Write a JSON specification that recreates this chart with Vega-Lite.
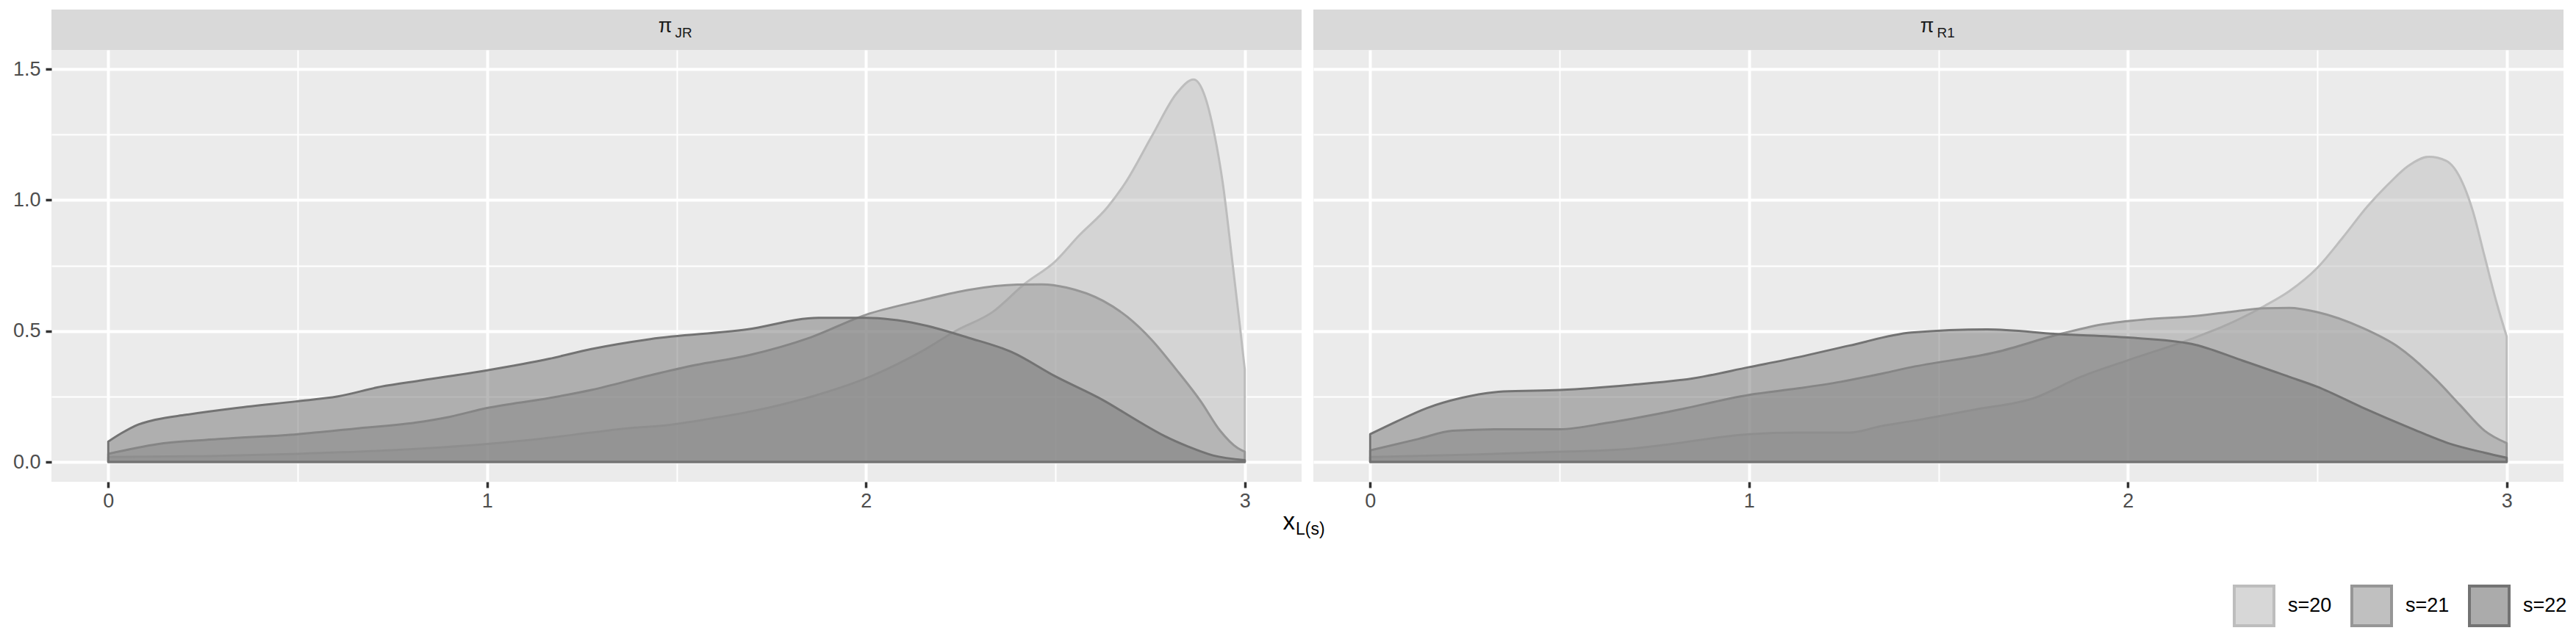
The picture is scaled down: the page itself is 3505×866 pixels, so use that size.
{
"$schema": "https://vega.github.io/schema/vega-lite/v6.json",
"background": "white",
"padding": {"left": 17, "top": 13, "right": 18, "bottom": 10},
"config": {"font": "Liberation Sans", "view": {"stroke": null}},
"datasets": {
"dens": [
{"p":"JR","s":"s=20","x":0,"y":0.019},{"p":"JR","s":"s=20","x":0.25,"y":0.022},{"p":"JR","s":"s=20","x":0.5,"y":0.031},{"p":"JR","s":"s=20","x":0.75,"y":0.045},{"p":"JR","s":"s=20","x":1.0,"y":0.069},{"p":"JR","s":"s=20","x":1.15,"y":0.09},{"p":"JR","s":"s=20","x":1.275,"y":0.112},{"p":"JR","s":"s=20","x":1.39,"y":0.131},{"p":"JR","s":"s=20","x":1.46,"y":0.138},{"p":"JR","s":"s=20","x":1.6,"y":0.168},{"p":"JR","s":"s=20","x":1.74,"y":0.206},{"p":"JR","s":"s=20","x":1.87,"y":0.255},{"p":"JR","s":"s=20","x":2.0,"y":0.319},{"p":"JR","s":"s=20","x":2.142,"y":0.418},{"p":"JR","s":"s=20","x":2.239,"y":0.502},{"p":"JR","s":"s=20","x":2.335,"y":0.573},{"p":"JR","s":"s=20","x":2.419,"y":0.68},{"p":"JR","s":"s=20","x":2.5,"y":0.766},{"p":"JR","s":"s=20","x":2.561,"y":0.862},{"p":"JR","s":"s=20","x":2.639,"y":0.975},{"p":"JR","s":"s=20","x":2.684,"y":1.064},{"p":"JR","s":"s=20","x":2.757,"y":1.25},{"p":"JR","s":"s=20","x":2.82,"y":1.407},{"p":"JR","s":"s=20","x":2.865,"y":1.46},{"p":"JR","s":"s=20","x":2.892,"y":1.407},{"p":"JR","s":"s=20","x":2.92,"y":1.25},{"p":"JR","s":"s=20","x":2.942,"y":1.064},{"p":"JR","s":"s=20","x":2.968,"y":0.755},{"p":"JR","s":"s=20","x":2.987,"y":0.521},{"p":"JR","s":"s=20","x":3.0,"y":0.353},
{"p":"JR","s":"s=21","x":0,"y":0.031},{"p":"JR","s":"s=21","x":0.13,"y":0.068},{"p":"JR","s":"s=21","x":0.3,"y":0.088},{"p":"JR","s":"s=21","x":0.5,"y":0.106},{"p":"JR","s":"s=21","x":0.65,"y":0.127},{"p":"JR","s":"s=21","x":0.81,"y":0.15},{"p":"JR","s":"s=21","x":0.9,"y":0.172},{"p":"JR","s":"s=21","x":1.0,"y":0.206},{"p":"JR","s":"s=21","x":1.164,"y":0.244},{"p":"JR","s":"s=21","x":1.275,"y":0.275},{"p":"JR","s":"s=21","x":1.431,"y":0.331},{"p":"JR","s":"s=21","x":1.55,"y":0.37},{"p":"JR","s":"s=21","x":1.686,"y":0.406},{"p":"JR","s":"s=21","x":1.853,"y":0.475},{"p":"JR","s":"s=21","x":2.0,"y":0.562},{"p":"JR","s":"s=21","x":2.142,"y":0.615},{"p":"JR","s":"s=21","x":2.271,"y":0.657},{"p":"JR","s":"s=21","x":2.4,"y":0.677},{"p":"JR","s":"s=21","x":2.465,"y":0.678},{"p":"JR","s":"s=21","x":2.529,"y":0.666},{"p":"JR","s":"s=21","x":2.626,"y":0.615},{"p":"JR","s":"s=21","x":2.69,"y":0.554},{"p":"JR","s":"s=21","x":2.755,"y":0.465},{"p":"JR","s":"s=21","x":2.819,"y":0.353},{"p":"JR","s":"s=21","x":2.884,"y":0.231},{"p":"JR","s":"s=21","x":2.935,"y":0.119},{"p":"JR","s":"s=21","x":2.981,"y":0.053},{"p":"JR","s":"s=21","x":3.0,"y":0.039},
{"p":"JR","s":"s=22","x":0,"y":0.078},{"p":"JR","s":"s=22","x":0.035,"y":0.11},{"p":"JR","s":"s=22","x":0.071,"y":0.138},{"p":"JR","s":"s=22","x":0.127,"y":0.162},{"p":"JR","s":"s=22","x":0.205,"y":0.18},{"p":"JR","s":"s=22","x":0.339,"y":0.206},{"p":"JR","s":"s=22","x":0.495,"y":0.231},{"p":"JR","s":"s=22","x":0.606,"y":0.25},{"p":"JR","s":"s=22","x":0.718,"y":0.287},{"p":"JR","s":"s=22","x":0.829,"y":0.312},{"p":"JR","s":"s=22","x":1.0,"y":0.35},{"p":"JR","s":"s=22","x":1.164,"y":0.394},{"p":"JR","s":"s=22","x":1.275,"y":0.431},{"p":"JR","s":"s=22","x":1.431,"y":0.469},{"p":"JR","s":"s=22","x":1.686,"y":0.506},{"p":"JR","s":"s=22","x":1.875,"y":0.55},{"p":"JR","s":"s=22","x":2.0,"y":0.55},{"p":"JR","s":"s=22","x":2.142,"y":0.526},{"p":"JR","s":"s=22","x":2.271,"y":0.474},{"p":"JR","s":"s=22","x":2.387,"y":0.418},{"p":"JR","s":"s=22","x":2.497,"y":0.329},{"p":"JR","s":"s=22","x":2.626,"y":0.236},{"p":"JR","s":"s=22","x":2.723,"y":0.152},{"p":"JR","s":"s=22","x":2.787,"y":0.1},{"p":"JR","s":"s=22","x":2.852,"y":0.058},{"p":"JR","s":"s=22","x":2.916,"y":0.025},{"p":"JR","s":"s=22","x":3.0,"y":0.007},
{"p":"R1","s":"s=20","x":0,"y":0.019},{"p":"R1","s":"s=20","x":0.25,"y":0.027},{"p":"R1","s":"s=20","x":0.462,"y":0.037},{"p":"R1","s":"s=20","x":0.685,"y":0.05},{"p":"R1","s":"s=20","x":0.796,"y":0.069},{"p":"R1","s":"s=20","x":1.0,"y":0.106},{"p":"R1","s":"s=20","x":1.13,"y":0.112},{"p":"R1","s":"s=20","x":1.264,"y":0.112},{"p":"R1","s":"s=20","x":1.353,"y":0.138},{"p":"R1","s":"s=20","x":1.429,"y":0.156},{"p":"R1","s":"s=20","x":1.596,"y":0.2},{"p":"R1","s":"s=20","x":1.753,"y":0.244},{"p":"R1","s":"s=20","x":1.876,"y":0.325},{"p":"R1","s":"s=20","x":2.0,"y":0.388},{"p":"R1","s":"s=20","x":2.168,"y":0.47},{"p":"R1","s":"s=20","x":2.265,"y":0.526},{"p":"R1","s":"s=20","x":2.361,"y":0.596},{"p":"R1","s":"s=20","x":2.426,"y":0.652},{"p":"R1","s":"s=20","x":2.5,"y":0.741},{"p":"R1","s":"s=20","x":2.568,"y":0.858},{"p":"R1","s":"s=20","x":2.632,"y":0.975},{"p":"R1","s":"s=20","x":2.69,"y":1.064},{"p":"R1","s":"s=20","x":2.74,"y":1.13},{"p":"R1","s":"s=20","x":2.795,"y":1.165},{"p":"R1","s":"s=20","x":2.84,"y":1.15},{"p":"R1","s":"s=20","x":2.884,"y":1.064},{"p":"R1","s":"s=20","x":2.91,"y":0.961},{"p":"R1","s":"s=20","x":2.942,"y":0.783},{"p":"R1","s":"s=20","x":2.974,"y":0.605},{"p":"R1","s":"s=20","x":3.0,"y":0.479},
{"p":"R1","s":"s=21","x":0,"y":0.044},{"p":"R1","s":"s=21","x":0.128,"y":0.088},{"p":"R1","s":"s=21","x":0.217,"y":0.119},{"p":"R1","s":"s=21","x":0.351,"y":0.125},{"p":"R1","s":"s=21","x":0.501,"y":0.125},{"p":"R1","s":"s=21","x":0.629,"y":0.15},{"p":"R1","s":"s=21","x":0.796,"y":0.194},{"p":"R1","s":"s=21","x":1.0,"y":0.256},{"p":"R1","s":"s=21","x":1.13,"y":0.281},{"p":"R1","s":"s=21","x":1.242,"y":0.306},{"p":"R1","s":"s=21","x":1.353,"y":0.338},{"p":"R1","s":"s=21","x":1.429,"y":0.362},{"p":"R1","s":"s=21","x":1.652,"y":0.419},{"p":"R1","s":"s=21","x":1.82,"y":0.488},{"p":"R1","s":"s=21","x":1.932,"y":0.525},{"p":"R1","s":"s=21","x":2.05,"y":0.545},{"p":"R1","s":"s=21","x":2.168,"y":0.556},{"p":"R1","s":"s=21","x":2.265,"y":0.572},{"p":"R1","s":"s=21","x":2.361,"y":0.587},{"p":"R1","s":"s=21","x":2.426,"y":0.588},{"p":"R1","s":"s=21","x":2.5,"y":0.572},{"p":"R1","s":"s=21","x":2.619,"y":0.512},{"p":"R1","s":"s=21","x":2.716,"y":0.437},{"p":"R1","s":"s=21","x":2.813,"y":0.315},{"p":"R1","s":"s=21","x":2.877,"y":0.217},{"p":"R1","s":"s=21","x":2.942,"y":0.119},{"p":"R1","s":"s=21","x":3.0,"y":0.072},
{"p":"R1","s":"s=22","x":0,"y":0.106},{"p":"R1","s":"s=22","x":0.072,"y":0.156},{"p":"R1","s":"s=22","x":0.15,"y":0.206},{"p":"R1","s":"s=22","x":0.239,"y":0.244},{"p":"R1","s":"s=22","x":0.351,"y":0.269},{"p":"R1","s":"s=22","x":0.501,"y":0.275},{"p":"R1","s":"s=22","x":0.685,"y":0.294},{"p":"R1","s":"s=22","x":0.852,"y":0.319},{"p":"R1","s":"s=22","x":1.0,"y":0.362},{"p":"R1","s":"s=22","x":1.13,"y":0.4},{"p":"R1","s":"s=22","x":1.264,"y":0.444},{"p":"R1","s":"s=22","x":1.429,"y":0.494},{"p":"R1","s":"s=22","x":1.629,"y":0.506},{"p":"R1","s":"s=22","x":1.82,"y":0.488},{"p":"R1","s":"s=22","x":2.0,"y":0.475},{"p":"R1","s":"s=22","x":2.168,"y":0.451},{"p":"R1","s":"s=22","x":2.297,"y":0.39},{"p":"R1","s":"s=22","x":2.426,"y":0.325},{"p":"R1","s":"s=22","x":2.5,"y":0.287},{"p":"R1","s":"s=22","x":2.619,"y":0.208},{"p":"R1","s":"s=22","x":2.748,"y":0.128},{"p":"R1","s":"s=22","x":2.845,"y":0.072},{"p":"R1","s":"s=22","x":2.942,"y":0.035},{"p":"R1","s":"s=22","x":3.0,"y":0.016}
]
},
"spacing": 0,
"vconcat": [
{
"spacing": 16,
"hconcat": [
{
"bounds": "flush",
"spacing": 0,
"vconcat": [
{
"width": 1701, "height": 55,
"view": {"fill": "#D9D9D9", "stroke": null},
"data": {"values": [{"sym": "π", "sub": "JR"}]},
"layer": [
{"mark": {"type": "text", "align": "right", "baseline": "alphabetic", "fontSize": 27, "dx": -6, "dy": 3, "color": "#1A1A1A"}, "encoding": {"text": {"field": "sym"}}},
{"mark": {"type": "text", "align": "left", "baseline": "alphabetic", "fontSize": 19, "dx": -2, "dy": 10, "color": "#1A1A1A"}, "encoding": {"text": {"field": "sub"}}}
]
},
{
"width": 1701, "height": 588,
"view": {"fill": "#EBEBEB", "stroke": null},
"data": {"name": "dens"},
"transform": [{"filter": "datum.p === 'JR'"}],
"mark": {"type": "area", "interpolate": "monotone", "fillOpacity": 0.5, "strokeWidth": 3, "strokeJoin": "round"},
"encoding": {
"x": {"field": "x", "type": "quantitative", "scale": {"domain": [-0.15, 3.15], "nice": false},
 "axis": {"values": [0,0.5,1,1.5,2,2.5,3], "labelExpr": "datum.value % 1 === 0 ? format(datum.value, 'd') : ''", "title": null, "domain": false, "tickColor": "#333333", "tickSize": 8, "tickWidth": 3.5, "tickOpacity": {"condition": {"test": "datum.value % 1 !== 0", "value": 0}, "value": 1}, "gridColor": "#FFFFFF", "gridOpacity": 1, "gridWidth": {"condition": {"test": "datum.value % 1 !== 0", "value": 2}, "value": 4}, "labelFontSize": 27, "labelColor": "#4D4D4D", "labelPadding": 5, "labelOverlap": false, "labelFlush": false}},
"y": {"field": "y", "type": "quantitative", "stack": null, "scale": {"domain": [-0.0757, 1.573], "nice": false},
 "axis": {"values": [0,0.25,0.5,0.75,1,1.25,1.5], "labelExpr": "datum.value % 0.5 === 0 ? format(datum.value, '.1f') : ''", "title": null, "domain": false, "tickColor": "#333333", "tickSize": 8, "tickWidth": 3.5, "tickOpacity": {"condition": {"test": "datum.value % 0.5 !== 0", "value": 0}, "value": 1}, "gridColor": "#FFFFFF", "gridOpacity": 1, "gridWidth": {"condition": {"test": "datum.value % 0.5 !== 0", "value": 2}, "value": 4}, "labelFontSize": 27, "labelColor": "#4D4D4D", "labelPadding": 7, "labelOverlap": false}},
"fill": {"field": "s", "type": "nominal", "scale": {"domain": ["s=20","s=21","s=22"], "range": ["#BDBDBD","#969696","#737373"]},
 "legend": {"title": null, "orient": "none", "legendX": 2968, "legendY": 783, "direction": "horizontal", "symbolType": "square", "symbolSize": 2916, "symbolStrokeWidth": 4, "labelFontSize": 27, "labelColor": "#000000", "labelOffset": 17, "columnPadding": 19, "encode": {"symbols": {"update": {"fillOpacity": {"value": 0.6}, "strokeOpacity": {"value": 1}}}}}},
"stroke": {"field": "s", "type": "nominal", "scale": {"domain": ["s=20","s=21","s=22"], "range": ["#BDBDBD","#969696","#737373"]},
 "legend": {"title": null, "orient": "none", "legendX": 2968, "legendY": 783, "direction": "horizontal", "symbolType": "square", "symbolSize": 2916, "symbolStrokeWidth": 4, "labelFontSize": 27, "labelColor": "#000000", "labelOffset": 17, "columnPadding": 19, "encode": {"symbols": {"update": {"fillOpacity": {"value": 0.6}, "strokeOpacity": {"value": 1}}}}}}
}
}
]
},
{
"bounds": "flush",
"spacing": 0,
"vconcat": [
{
"width": 1701, "height": 55,
"view": {"fill": "#D9D9D9", "stroke": null},
"data": {"values": [{"sym": "π", "sub": "R1"}]},
"layer": [
{"mark": {"type": "text", "align": "right", "baseline": "alphabetic", "fontSize": 27, "dx": -6, "dy": 3, "color": "#1A1A1A"}, "encoding": {"text": {"field": "sym"}}},
{"mark": {"type": "text", "align": "left", "baseline": "alphabetic", "fontSize": 19, "dx": -2, "dy": 10, "color": "#1A1A1A"}, "encoding": {"text": {"field": "sub"}}}
]
},
{
"width": 1701, "height": 588,
"view": {"fill": "#EBEBEB", "stroke": null},
"data": {"name": "dens"},
"transform": [{"filter": "datum.p === 'R1'"}],
"mark": {"type": "area", "interpolate": "monotone", "fillOpacity": 0.5, "strokeWidth": 3, "strokeJoin": "round"},
"encoding": {
"x": {"field": "x", "type": "quantitative", "scale": {"domain": [-0.15, 3.15], "nice": false},
 "axis": {"values": [0,0.5,1,1.5,2,2.5,3], "labelExpr": "datum.value % 1 === 0 ? format(datum.value, 'd') : ''", "title": null, "domain": false, "tickColor": "#333333", "tickSize": 8, "tickWidth": 3.5, "tickOpacity": {"condition": {"test": "datum.value % 1 !== 0", "value": 0}, "value": 1}, "gridColor": "#FFFFFF", "gridOpacity": 1, "gridWidth": {"condition": {"test": "datum.value % 1 !== 0", "value": 2}, "value": 4}, "labelFontSize": 27, "labelColor": "#4D4D4D", "labelPadding": 5, "labelOverlap": false, "labelFlush": false}},
"y": {"field": "y", "type": "quantitative", "stack": null, "scale": {"domain": [-0.0757, 1.573], "nice": false},
 "axis": {"values": [0,0.25,0.5,0.75,1,1.25,1.5], "labels": false, "ticks": false, "title": null, "domain": false, "gridColor": "#FFFFFF", "gridOpacity": 1, "gridWidth": {"condition": {"test": "datum.value % 0.5 !== 0", "value": 2}, "value": 4}}},
"fill": {"field": "s", "type": "nominal", "scale": {"domain": ["s=20","s=21","s=22"], "range": ["#BDBDBD","#969696","#737373"]},
 "legend": {"title": null, "orient": "none", "legendX": 2968, "legendY": 783, "direction": "horizontal", "symbolType": "square", "symbolSize": 2916, "symbolStrokeWidth": 4, "labelFontSize": 27, "labelColor": "#000000", "labelOffset": 17, "columnPadding": 19, "encode": {"symbols": {"update": {"fillOpacity": {"value": 0.6}, "strokeOpacity": {"value": 1}}}}}},
"stroke": {"field": "s", "type": "nominal", "scale": {"domain": ["s=20","s=21","s=22"], "range": ["#BDBDBD","#969696","#737373"]},
 "legend": {"title": null, "orient": "none", "legendX": 2968, "legendY": 783, "direction": "horizontal", "symbolType": "square", "symbolSize": 2916, "symbolStrokeWidth": 4, "labelFontSize": 27, "labelColor": "#000000", "labelOffset": 17, "columnPadding": 19, "encode": {"symbols": {"update": {"fillOpacity": {"value": 0.6}, "strokeOpacity": {"value": 1}}}}}}
}
}
]
}
]
},
{
"width": 3418, "height": 52,
"view": {"stroke": null},
"data": {"values": [{"main": "x", "sub": "L(s)"}]},
"layer": [
{"mark": {"type": "text", "align": "right", "baseline": "alphabetic", "fontSize": 33, "dx": -17, "dy": 0, "color": "#000000"}, "encoding": {"text": {"field": "main"}}},
{"mark": {"type": "text", "align": "left", "baseline": "alphabetic", "fontSize": 23, "dx": -16, "dy": 7, "color": "#000000"}, "encoding": {"text": {"field": "sub"}}}
]
}
]
}
